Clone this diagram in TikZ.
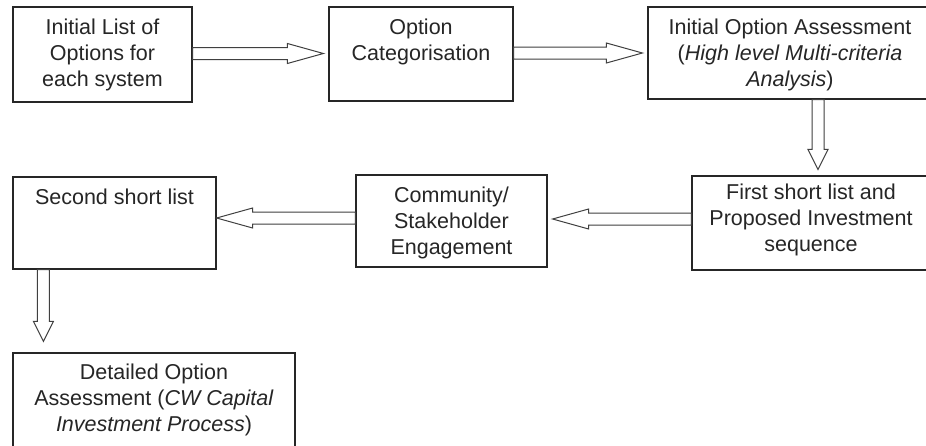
\documentclass[tikz,border=0pt]{standalone}
\usepackage{fontspec}
\setmainfont{Liberation Sans}
\usetikzlibrary{calc}
\newcommand{\boxfont}{\fontsize{21.5}{26}\selectfont}
\tikzset{%
% Specifications for style of nodes:
stage/.style = {draw=black!85, line width=1.2pt, inner sep=0pt},
caption/.style = {anchor=north, align=center, inner sep=0pt, font=\boxfont, text=black!85},
% hollow block arrow, #1 is the length of the head
hollow/.style = {draw=black!75, line width=1pt, fill=white, line join=miter,
  to path={
    ($(\tikztotarget)!#1!(\tikztostart)$) coordinate (hd)
    ($(\tikztostart)!6pt!90:(\tikztotarget)$)
    -- ($(hd)!6pt!-90:(\tikztostart)$)
    -- ($(hd)!10pt!-90:(\tikztostart)$)
    -- (\tikztotarget)
    -- ($(hd)!10pt!90:(\tikztostart)$)
    -- ($(hd)!6pt!90:(\tikztostart)$)
    -- ($(\tikztostart)!6pt!-90:(\tikztotarget)$) -- cycle}},
hollow/.default = 36pt,
}

\begin{document}
\begin{tikzpicture}[x=1pt, y=-1pt]
        \path[use as bounding box] (0,0) rectangle (926,445);
        \clip (0,0) rectangle (926,445);
        \fill[white] (0,0) rectangle (926,445);

        % Specification of nodes (position, etc.)
        \node (list) [stage, minimum width=179pt, minimum height=95pt] at (102.5,54.5) {};
        \node (cat) [stage, minimum width=184pt, minimum height=94pt] at (421,54) {};
        \node (assess) [stage, minimum width=284pt, minimum height=92pt] at (790,53) {};
        \node (first) [stage, minimum width=238pt, minimum height=94pt] at (811,223) {};
        \node (engage) [stage, minimum width=191pt, minimum height=92pt] at (451.5,221) {};
        \node (second) [stage, minimum width=203pt, minimum height=92pt] at (114.5,223) {};
        \node (detail) [stage, minimum width=282pt, minimum height=96pt] at (154,401) {};

        % texts sit at the top of each box
        \node (listText) [caption] at ([yshift=-12.3pt]list.north) {Initial List of\\Options for\\each system};
        \node (catText) [caption] at ([yshift=-12.3pt]cat.north) {Option\\Categorisation};
        \node (assessText) [caption] at ([yshift=-12.6pt]assess.north) {Initial Option Assessment\\(\textit{High level Multi-criteria}\\\textit{Analysis})};
        \node (firstText) [caption] at ([yshift=-8.6pt]first.north) {First short list and\\Proposed Investment\\sequence};
        \node (engageText) [caption] at ([yshift=-12.3pt]engage.north) {Community/\\Stakeholder\\Engagement};
        \node (secondText) [caption] at ([yshift=-12.3pt]second.north) {Second short list};
        \node (detailText) [caption] at ([yshift=-11.3pt]detail.north) {Detailed Option\\Assessment (\textit{CW Capital}\\\textit{Investment Process})};

        \draw [hollow] ([yshift=1pt]list.east) to ([xshift=-5pt,yshift=1pt]list.east -| cat.west);
        \draw [hollow] ([yshift=1pt]cat.east) to ([xshift=-5pt,yshift=1pt]cat.east -| assess.west);
        \draw [hollow=20pt] ([xshift=28pt]assess.south) to ([xshift=28pt,yshift=6pt]assess.south |- first.north);
        \draw [hollow] ([yshift=4pt]first.west) to ([xshift=5pt,yshift=4pt]first.west -| engage.east);
        \draw [hollow] ([yshift=3pt]engage.west) to ([yshift=3pt]engage.west -| second.east);
        \draw [hollow=20pt] ([xshift=31pt]second.south west) to ([xshift=31pt,yshift=11pt]second.south west |- detail.north);
\end{tikzpicture}
\end{document}
